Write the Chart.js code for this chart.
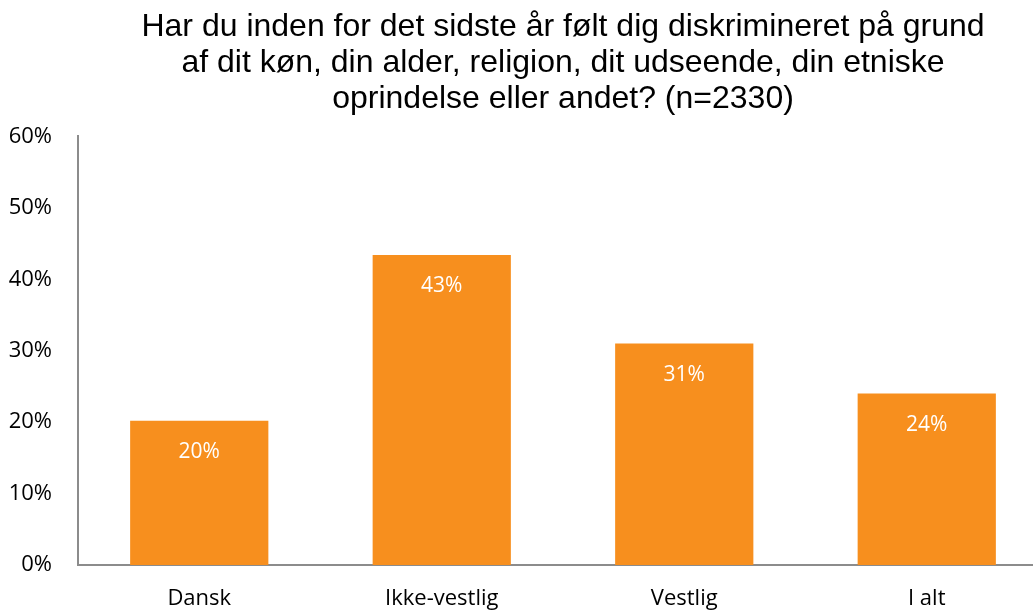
<!DOCTYPE html>
<html>
<head>
<meta charset="utf-8">
<script src="https://cdn.jsdelivr.net/npm/chart.js@4"></script>
<style>
  html, body { margin: 0; padding: 0; background: #fff; overflow: hidden; }
  #wrap { width: 1048px; height: 611px; }
</style>
</head>
<body>
<div id="wrap"><canvas id="chart"></canvas></div>
<script>
const categories = ['Dansk', 'Ikke-vestlig', 'Vestlig', 'I alt'];
const shares = [20.2, 43.4, 31.0, 24.0];
const yTicks = [0, 10, 20, 30, 40, 50, 60];
const titleLines = [
    'Har du inden for det sidste år følt dig diskrimineret på grund',
    'af dit køn, din alder, religion, dit udseende, din etniske',
    'oprindelse eller andet? (n=2330)'
];

// white percentage label inside the top of each bar
const barLabels = {
    id: 'barLabels',
    afterDatasetsDraw(chart) {
        const ctx = chart.ctx;
        const meta = chart.getDatasetMeta(0);
        ctx.save();
        ctx.fillStyle = '#ffffff';
        ctx.font = '21px "Open Sans", sans-serif';
        ctx.textAlign = 'center';
        ctx.textBaseline = 'middle';
        meta.data.forEach(function (bar, i) {
            ctx.fillText(Math.round(shares[i]) + '%', bar.x, bar.y + 31);
        });
        ctx.restore();
    }
};

new Chart(document.getElementById('chart').getContext('2d'), {
    type: 'bar',
    data: {
        labels: categories,
        datasets: [{
            data: shares,
            backgroundColor: '#F78F1E',
            barPercentage: 0.57,
            categoryPercentage: 1
        }]
    },
    options: {
        responsive: true,
        maintainAspectRatio: false,
        animation: false,
        layout: { padding: { left: 4, right: 0, top: 9, bottom: 0 } },
        plugins: {
            legend: { display: false },
            tooltip: { enabled: false },
            title: {
                display: true,
                text: titleLines,
                fullSize: false,
                color: '#000',
                font: { family: '"Liberation Sans", Arial, sans-serif', size: 32, weight: 'normal', lineHeight: 1.13 },
                padding: { top: 0, bottom: 19 }
            }
        },
        scales: {
            y: {
                min: 0,
                max: 60,
                afterBuildTicks(axis) { axis.ticks = yTicks.map(v => ({ value: v })); },
                afterFit(axis) { axis.width = 74; },
                grid: { display: false, drawTicks: false },
                border: { display: true, color: '#8c8c8c', width: 2 },
                ticks: {
                    padding: 26,
                    color: '#000',
                    font: { family: '"Open Sans", sans-serif', size: 22 },
                    callback: v => v + '%'
                }
            },
            x: {
                afterFit(axis) { axis.height = 46; },
                grid: { display: false, drawTicks: false },
                border: { display: true, color: '#8c8c8c', width: 2 },
                ticks: {
                    padding: 21,
                    color: '#000',
                    font: { family: '"Open Sans", sans-serif', size: 22 }
                }
            }
        }
    },
    plugins: [barLabels]
});
</script>
</body>
</html>
